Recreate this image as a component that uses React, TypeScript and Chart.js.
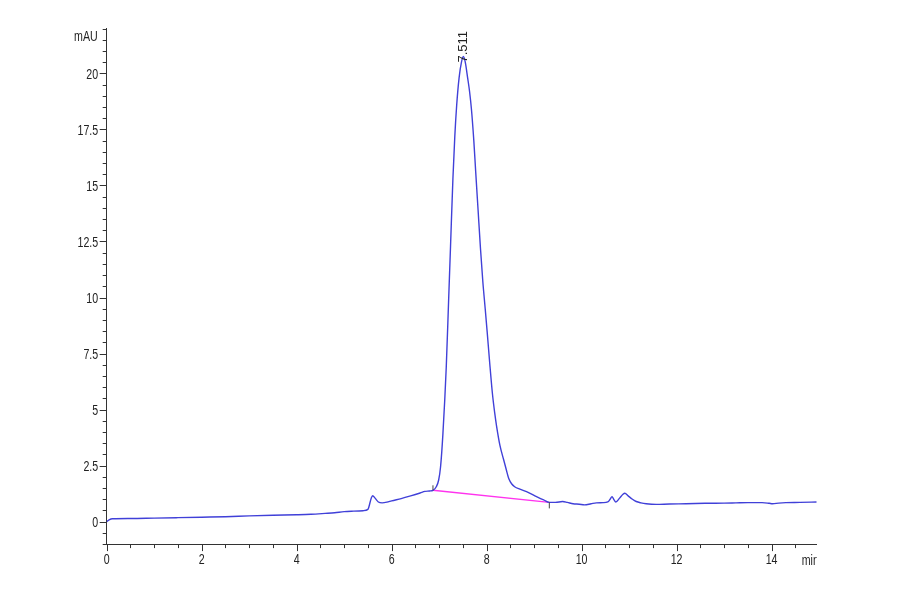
import React, { useEffect, useRef } from 'react';
import { Chart, registerables } from 'chart.js';

Chart.register(...registerables);

// Retention time (min)
const times = [
  0.0, 0.05, 0.12, 0.5, 1.0, 1.5, 2.0, 2.5, 3.0, 3.5, 4.0, 4.3, 4.6, 4.8, 5.0, 5.2, 5.4, 5.5,
  5.57, 5.6, 5.65, 5.72, 5.8, 5.9, 6.0, 6.2, 6.4, 6.6, 6.7, 6.8, 6.87, 6.94, 6.99, 7.03,
  7.08, 7.15, 7.2, 7.24, 7.29, 7.33, 7.37, 7.42, 7.47, 7.51, 7.55, 7.6, 7.64, 7.68, 7.73,
  7.77, 7.82, 7.87, 7.92, 7.97, 8.01, 8.06, 8.12, 8.17, 8.21, 8.28, 8.36, 8.41, 8.47, 8.53, 8.59, 8.7,
  8.84, 9.05, 9.2, 9.32, 9.45, 9.6, 9.7, 9.82, 9.95, 10.06, 10.2, 10.31, 10.45, 10.55, 10.6,
  10.64, 10.68, 10.72, 10.8, 10.87, 10.91, 10.98, 11.07, 11.15, 11.25, 11.36, 11.57, 11.85, 12.2,
  12.6, 13.0, 13.25, 13.5, 13.8, 13.95, 14.02, 14.15, 14.3, 14.6, 14.95,
];

// Absorbance (mAU)
const absorbance = [
  0.0, 0.08, 0.13, 0.14, 0.16, 0.18, 0.2, 0.22, 0.26, 0.29, 0.31, 0.33, 0.37, 0.4, 0.45, 0.47, 0.49, 0.55,
  1.05, 1.16, 1.05, 0.88, 0.84, 0.87, 0.93, 1.03, 1.15, 1.28, 1.35, 1.37, 1.4, 1.56, 1.86, 2.45,
  3.94, 6.9, 9.9, 12.3, 15.3, 17.2, 18.6, 19.8, 20.5, 20.75, 20.5, 19.8, 19.2, 18.4, 17.0,
  15.6, 13.9, 12.2, 10.7, 9.5, 8.5, 7.2, 5.75, 4.85, 4.25, 3.4, 2.75, 2.35, 1.9, 1.68, 1.56, 1.45,
  1.34, 1.12, 0.97, 0.86, 0.86, 0.9, 0.86, 0.8, 0.78, 0.75, 0.8, 0.84, 0.85, 0.88, 1.0,
  1.12, 0.98, 0.88, 1.05, 1.22, 1.27, 1.15, 1.0, 0.9, 0.84, 0.8, 0.77, 0.79, 0.8,
  0.82, 0.83, 0.84, 0.85, 0.85, 0.82, 0.8, 0.83, 0.85, 0.86, 0.88,
];

// Integration baseline of the main peak
const baselineTimes = [6.87, 9.32];
const baselineValues = [1.4, 0.86];

const peakTime = 7.511;
const peakHeight = 20.75;
const peakLabel = '7.511';

const xTicks = [0, 2, 4, 6, 8, 10, 12, 14];
const xTickLabels = ['0', '2', '4', '6', '8', '10', '12', '14'];
const yTicks = [0, 2.5, 5, 7.5, 10, 12.5, 15, 17.5, 20];
const yTickLabels = ['0', '2.5', '5', '7.5', '10', '12.5', '15', '17.5', '20'];
const minorStep = 0.5;

const yUnit = 'mAU';
const xUnit = 'min';

const FONT = "'Liberation Sans', Arial, sans-serif";
const NARROW = 0.76;
const TEXT = '#222222';
const AXIS = '#333333';

function narrowText(ctx: any, text: string, x: number, y: number, align: 'left' | 'right' | 'center') {
  ctx.save();
  ctx.translate(x, y);
  ctx.scale(NARROW, 1);
  ctx.textAlign = align;
  ctx.fillText(text, 0, 0);
  ctx.restore();
}

const decorPlugin = {
  id: 'decor',
  afterDraw(chart: any) {
    const { ctx, chartArea } = chart;
    const xs = chart.scales.x;
    const ys = chart.scales.y;
    ctx.save();
    ctx.strokeStyle = AXIS;
    ctx.lineWidth = 1;
    // tick marks
    ctx.beginPath();
    for (let v = ys.min; v <= ys.max + 1e-9; v += minorStep) {
      const yy = Math.round(ys.getPixelForValue(v)) + 0.5;
      const major = yTicks.some((t) => Math.abs(t - v) < 1e-6);
      ctx.moveTo(chartArea.left - (major ? 7 : 4), yy);
      ctx.lineTo(chartArea.left, yy);
    }
    for (let v = 0; v <= xs.max + 1e-9; v += minorStep) {
      const xx = Math.round(xs.getPixelForValue(v)) + 0.5;
      const major = xTicks.some((t) => Math.abs(t - v) < 1e-6);
      ctx.moveTo(xx, chartArea.bottom);
      ctx.lineTo(xx, chartArea.bottom + (major ? 7 : 4));
    }
    ctx.stroke();

    // baseline start/end markers
    ctx.strokeStyle = '#444';
    ctx.beginPath();
    const bx0 = xs.getPixelForValue(baselineTimes[0]);
    const by0 = ys.getPixelForValue(baselineValues[0]);
    ctx.moveTo(bx0, by0 - 5);
    ctx.lineTo(bx0, by0);
    const bx1 = xs.getPixelForValue(baselineTimes[1]);
    const by1 = ys.getPixelForValue(baselineValues[1]);
    ctx.moveTo(bx1, by1);
    ctx.lineTo(bx1, by1 + 6);
    ctx.stroke();

    // tick labels
    ctx.fillStyle = TEXT;
    ctx.font = `14px ${FONT}`;
    ctx.textBaseline = 'middle';
    yTicks.forEach((v, i) => {
      narrowText(ctx, yTickLabels[i], chartArea.left - 8.5, ys.getPixelForValue(v) + 1.5, 'right');
    });
    xTicks.forEach((v, i) => {
      narrowText(ctx, xTickLabels[i], xs.getPixelForValue(v), chartArea.bottom + 16, 'center');
    });

    // units
    narrowText(ctx, yUnit, chartArea.left - 9, chartArea.top + 9, 'right');
    ctx.save();
    ctx.beginPath();
    ctx.rect(chartArea.right - 30, chartArea.bottom, 30, 40);
    ctx.clip();
    narrowText(ctx, xUnit, chartArea.right - 15, chartArea.bottom + 17, 'left');
    ctx.restore();

    // peak label
    const px = xs.getPixelForValue(peakTime);
    const py = ys.getPixelForValue(peakHeight);
    ctx.save();
    ctx.translate(px, py + 6);
    ctx.rotate(-Math.PI / 2);
    ctx.font = `13px ${FONT}`;
    ctx.textAlign = 'left';
    ctx.textBaseline = 'middle';
    ctx.fillStyle = TEXT;
    ctx.fillText(peakLabel, 0, 0);
    ctx.restore();

    ctx.restore();
  },
};

export default function App() {
  const ref = useRef<HTMLCanvasElement | null>(null);

  useEffect(() => {
    document.body.style.margin = '0';
    const canvas = ref.current;
    if (!canvas) return;
    const chart = new Chart(canvas, {
      type: 'line',
      data: {
        datasets: [
          {
            label: 'signal',
            data: times.map((t, i) => ({ x: t, y: absorbance[i] })),
            borderColor: '#4040d8',
            borderWidth: 1.4,
            pointRadius: 0,
            cubicInterpolationMode: 'monotone',
            fill: false,
          },
          {
            label: 'baseline',
            data: baselineTimes.map((t, i) => ({ x: t, y: baselineValues[i] })),
            borderColor: '#ff33ee',
            borderWidth: 1.4,
            pointRadius: 0,
            fill: false,
          },
        ],
      },
      options: {
        responsive: false,
        animation: false,
        devicePixelRatio: 1,
        layout: { padding: { left: 0, top: 28.5, right: 83.3, bottom: 0 } },
        plugins: { legend: { display: false }, tooltip: { enabled: false } },
        scales: {
          x: {
            type: 'linear',
            min: 0,
            max: 14.95,
            afterBuildTicks: (s: any) => {
              s.ticks = xTicks.map((value) => ({ value }));
            },
            afterFit: (s: any) => {
              s.height = 49.9;
            },
            ticks: { display: false },
            grid: { display: false, drawTicks: false, tickLength: 0 },
            border: { display: true, color: AXIS, width: 1 },
          },
          y: {
            type: 'linear',
            min: -1,
            max: 22,
            afterBuildTicks: (s: any) => {
              s.ticks = yTicks.map((value) => ({ value }));
            },
            afterFit: (s: any) => {
              s.width = 106.7;
            },
            ticks: { display: false },
            grid: { display: false, drawTicks: false, tickLength: 0 },
            border: { display: true, color: AXIS, width: 1 },
          },
        },
      },
      plugins: [decorPlugin],
    } as any);
    return () => chart.destroy();
  }, []);

  return (
    <div style={{ width: 900, height: 594, background: '#fff' }}>
      <canvas ref={ref} width={900} height={594} style={{ display: 'block' }} />
    </div>
  );
}
